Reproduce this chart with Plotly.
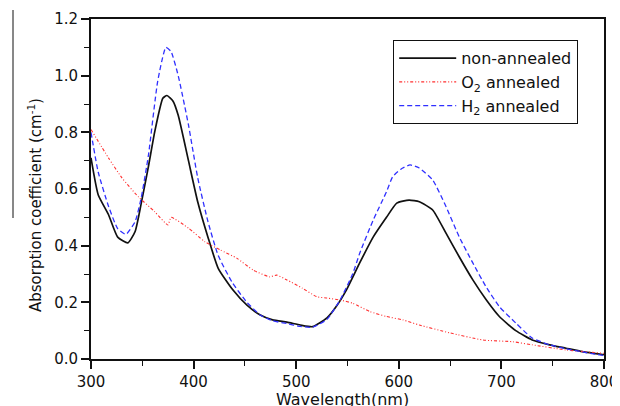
import plotly.graph_objects as go

# ---- data ----
black_x = [300, 307, 317, 326, 336, 343, 349, 356, 362, 370, 374, 380, 385, 395, 404, 414, 424, 438,
           452, 465, 477, 491, 504, 516, 530, 539, 549, 562, 575, 588, 598, 610, 620, 633, 646, 659,
           672, 685, 698, 714, 730, 747, 763, 779, 800]
black_y = [0.71, 0.58, 0.51, 0.43, 0.41, 0.45, 0.55, 0.68, 0.80, 0.92, 0.93, 0.91, 0.86, 0.70, 0.555,
           0.43, 0.32, 0.245, 0.19, 0.155, 0.138, 0.13, 0.12, 0.114, 0.145, 0.185, 0.244, 0.34, 0.43,
           0.50, 0.55, 0.561, 0.555, 0.526, 0.444, 0.36, 0.28, 0.21, 0.15, 0.10, 0.067, 0.05, 0.038,
           0.026, 0.015]

blue_x = [300, 307, 317, 326, 334, 343, 349, 356, 365, 373, 378, 385, 395, 404, 414, 424, 438, 452,
          465, 477, 491, 504, 516, 530, 543, 555, 562, 575, 588, 594, 602, 611, 620, 633, 646, 659,
          672, 685, 698, 714, 730, 747, 763, 779, 800]
blue_y = [0.80, 0.66, 0.54, 0.46, 0.44, 0.485, 0.57, 0.72, 0.98, 1.10, 1.085, 1.00, 0.826, 0.64,
          0.485, 0.365, 0.268, 0.20, 0.155, 0.135, 0.125, 0.115, 0.112, 0.14, 0.21, 0.30, 0.374,
          0.49, 0.59, 0.643, 0.67, 0.685, 0.674, 0.632, 0.538, 0.43, 0.34, 0.255, 0.185, 0.127,
          0.074, 0.05, 0.036, 0.025, 0.012]

red_x = [300, 317, 330, 346, 362, 375, 378, 395, 411, 426, 442, 458, 474, 481, 491, 506, 520, 530,
         543, 555, 572, 588, 604, 620, 650, 682, 711, 730, 763, 800]
red_y = [0.81, 0.71, 0.64, 0.573, 0.52, 0.473, 0.50, 0.462, 0.414, 0.385, 0.356, 0.314, 0.29, 0.296,
         0.279, 0.25, 0.22, 0.215, 0.208, 0.197, 0.167, 0.15, 0.138, 0.12, 0.092, 0.067, 0.061,
         0.05, 0.032, 0.02]

series_names = ["non-annealed", "O<sub>2</sub> annealed", "H<sub>2</sub> annealed"]
x_title = "Wavelength(nm)"
y_title = "Absorption coefficient (cm<sup>-1</sup>)"

FONT = "DejaVu Sans, Verdana, sans-serif"

# the page body has an 8px margin, so the figure starts at (8, 8) in the screenshot
OFF = 8
W, H = 612, 398
L = 91 - OFF            # left axis at screenshot x = 91
T = 19 - OFF            # top of plot at screenshot y = 19
B = H - (359 - OFF)     # bottom axis at screenshot y = 359
R = W - (604 - OFF)     # right axis at screenshot x = 604
pw, ph = W - L - R, H - T - B


def px(xs):
    return (xs - OFF - L) / pw


def py(ys):
    return (H - B - (ys - OFF)) / ph


fig = go.Figure()
fig.add_trace(go.Scatter(x=black_x, y=black_y, mode="lines", name=series_names[0],
                         line=dict(color="#111111", width=1.7, shape="spline", smoothing=0.5)))
fig.add_trace(go.Scatter(x=red_x, y=red_y, mode="lines", name=series_names[1],
                         line=dict(color="#ff3030", width=1.1, dash="3px,2px,1px,2px,1px,2px",
                                   shape="spline", smoothing=0.5)))
fig.add_trace(go.Scatter(x=blue_x, y=blue_y, mode="lines", name=series_names[2],
                         line=dict(color="#3030ff", width=1.3, dash="5px,3px",
                                   shape="spline", smoothing=0.5)))

fig.update_layout(
    width=W, height=H,
    margin=dict(l=L, r=R, t=T, b=B, autoexpand=False),
    paper_bgcolor="white", plot_bgcolor="white",
    font=dict(family=FONT, size=15, color="#111111"),
    showlegend=True,
    legend=dict(x=px(393), y=py(40), xanchor="left", yanchor="top",
                bordercolor="#111111", borderwidth=1.2, bgcolor="white",
                font=dict(family=FONT, size=16, color="#111111"),
                itemwidth=57, tracegroupgap=0),
)

fig.update_xaxes(range=[300, 800], dtick=100, tick0=300, ticks="outside", ticklen=8, tickwidth=1.5,
                 tickcolor="#111111", showline=True, linecolor="#111111", linewidth=1.8, mirror=True,
                 showgrid=False, zeroline=False, tickfont=dict(size=15), ticklabeloverflow="allow",
                 minor=dict(dtick=50, ticks="outside", ticklen=5, tickwidth=1.3, tickcolor="#111111",
                            showgrid=False))
fig.update_yaxes(range=[0, 1.2], dtick=0.2, tick0=0, tickformat=".1f", ticks="outside", ticklen=8,
                 tickwidth=1.5, tickcolor="#111111", showline=True, linecolor="#111111", linewidth=1.8,
                 mirror=True, showgrid=False, zeroline=False, tickfont=dict(size=15),
                 minor=dict(dtick=0.1, ticks="outside", ticklen=5, tickwidth=1.3, tickcolor="#111111",
                            showgrid=False))

# axis titles as annotations for precise placement
fig.add_annotation(text=x_title, xref="paper", yref="paper",
                   x=px(342), y=py(389), xanchor="center", yanchor="top", borderpad=0,
                   showarrow=False, font=dict(size=16, family=FONT, color="#111111"))
fig.add_annotation(text=y_title, xref="paper", yref="paper", textangle=-90,
                   x=px(35), y=py(205), xanchor="center", yanchor="middle",
                   showarrow=False, font=dict(size=15, family=FONT, color="#111111"))

# stray line at the top-left of the reference
fig.add_shape(type="line", xref="paper", yref="paper",
              x0=px(13), x1=px(13), y0=py(10), y1=py(218),
              line=dict(color="#111111", width=1))

fig.write_html("out.html")
